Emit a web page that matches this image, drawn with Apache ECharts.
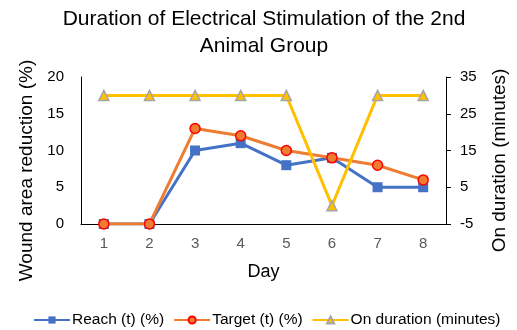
<!DOCTYPE html>
<html>
<head>
<meta charset="utf-8">
<script src="https://cdn.jsdelivr.net/npm/echarts@6/dist/echarts.min.js"></script>
<style>
  html, body { margin: 0; padding: 0; background: #fff; }
  #chart { width: 517px; height: 330px; }
</style>
</head>
<body>
<div id="chart"></div>
<script>
// Days of the experiment
const days = ['1', '2', '3', '4', '5', '6', '7', '8'];
// Wound area reduction (%)
const reach = [0, 0, 10, 11, 8, 9, 5, 5];
const target = [0, 0, 13, 12, 10, 9, 8, 6];
// Stimulation on-time per day (minutes)
const onDuration = [30, 30, 30, 30, 30, 0, 30, 30];
const chartTitle = 'Duration of Electrical Stimulation of the 2nd\nAnimal Group';

const font = 'Liberation Sans, Arial, sans-serif';
const chart = echarts.init(document.getElementById('chart'), null, { renderer: 'canvas' });

chart.setOption({
  animation: false,
  graphic: [
    {
      type: 'text',
      x: 264,
      y: 6,
      style: {
        text: chartTitle,
        textAlign: 'center',
        fontFamily: font,
        fontSize: 21,
        lineHeight: 27,
        fill: '#000'
      }
    }
  ],
  legend: {
    bottom: -3,
    left: 28,
    itemGap: 9,
    itemWidth: 36,
    itemHeight: 9,
    textStyle: { fontFamily: font, fontSize: 15.5, color: '#000', padding: [0, 0, 0, -3] },
    data: ['Reach (t) (%)', 'Target (t) (%)', 'On duration (minutes)']
  },
  grid: { left: 81, right: 70, top: 77, bottom: 106 },
  xAxis: {
    type: 'category',
    data: days,
    boundaryGap: true,
    name: 'Day',
    nameLocation: 'middle',
    nameGap: 39,
    nameTextStyle: { fontFamily: font, fontSize: 18, color: '#000' },
    axisLine: { lineStyle: { color: '#000', width: 1 } },
    axisTick: { show: false },
    axisLabel: { fontFamily: font, fontSize: 15, color: '#595959', margin: 12 }
  },
  yAxis: [
    {
      type: 'value',
      min: 0, max: 20, interval: 5,
      name: 'Wound area reduction (%)',
      nameLocation: 'middle',
      nameGap: 44,
      nameTextStyle: { fontFamily: font, fontSize: 19, color: '#000', padding: [0, 40, 0, 0] },
      axisLine: { show: true, lineStyle: { color: '#000', width: 1 } },
      axisTick: { show: false },
      splitLine: { show: false },
      axisLabel: { fontFamily: font, fontSize: 15, color: '#000', margin: 17 }
    },
    {
      type: 'value',
      min: -5, max: 35, interval: 10,
      name: 'On duration (minutes)',
      nameLocation: 'middle',
      nameGap: 44,
      nameRotate: 90,
      nameTextStyle: { fontFamily: font, fontSize: 19, color: '#000', padding: [0, 20, 0, 0] },
      axisLine: { show: true, lineStyle: { color: '#000', width: 1 } },
      axisTick: { show: true, length: 5, lineStyle: { color: '#000' } },
      splitLine: { show: false },
      axisLabel: { fontFamily: font, fontSize: 15, color: '#000', margin: 14 }
    }
  ],
  series: [
    {
      name: 'Reach (t) (%)',
      type: 'line',
      data: reach,
      yAxisIndex: 0,
      symbol: 'rect',
      symbolSize: 10,
      lineStyle: { color: '#4472C4', width: 3 },
      itemStyle: { color: '#4472C4' },
      z: 2
    },
    {
      name: 'Target (t) (%)',
      type: 'line',
      data: target,
      yAxisIndex: 0,
      symbol: 'circle',
      symbolSize: 10,
      lineStyle: { color: '#ED7D31', width: 3 },
      itemStyle: { color: '#ED7D31', borderColor: '#FF0000', borderWidth: 1.5 },
      z: 3
    },
    {
      name: 'On duration (minutes)',
      type: 'line',
      data: onDuration,
      yAxisIndex: 1,
      symbol: 'triangle',
      symbolSize: 10,
      lineStyle: { color: '#FFC000', width: 3 },
      itemStyle: { color: '#FFC000', borderColor: '#A5A5A5', borderWidth: 1.5 },
      z: 4
    }
  ]
});
</script>
</body>
</html>
